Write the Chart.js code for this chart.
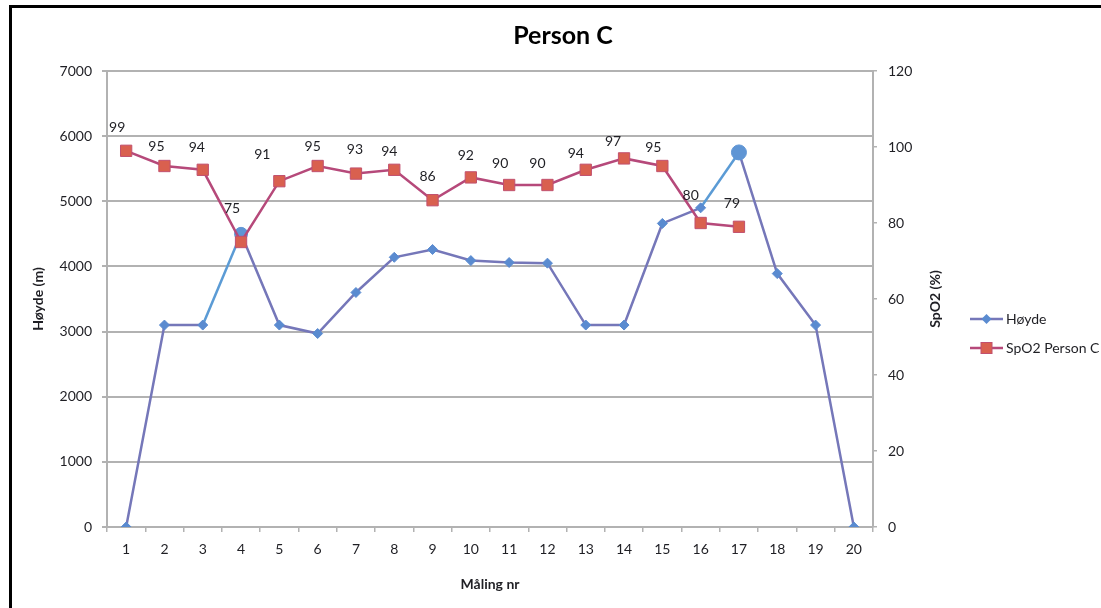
<!DOCTYPE html>
<html>
<head>
<meta charset="utf-8">
<title>Person C</title>
<script src="https://cdn.jsdelivr.net/npm/chart.js@4.4.1/dist/chart.umd.min.js"></script>
<style>
  html, body { margin: 0; padding: 0; background: #ffffff; }
  canvas { display: block; }
</style>
</head>
<body>
<canvas id="chart" width="1101" height="608"></canvas>
<script>
// Measurement numbers along the x axis
const measurements = ['1','2','3','4','5','6','7','8','9','10','11','12','13','14','15','16','17','18','19','20'];
// Altitude (m) at each measurement
const altitude = [0, 3100, 3100, 4500, 3100, 2970, 3600, 4140, 4260, 4090, 4060, 4050, 3100, 3100, 4660, 4900, 5750, 3890, 3100, 0];
// SpO2 (%) for Person C, measured at the first 17 points
const spo2 = [99, 95, 94, 75, 91, 95, 93, 94, 86, 92, 90, 90, 94, 97, 95, 80, 79];
// Axis ranges and steps
const altitudeAxis = { min: 0, max: 7000, step: 1000 };
const spo2Axis = { min: 0, max: 120, step: 20 };

const FONT = "Lato, 'Open Sans', 'Liberation Sans', sans-serif";
const TEXT = '#1f1f24';
const GRID = '#b2b2b2';

const altitudeLine = '#7577b9';
const altitudeMarker = '#5a8bd0';
const highlightLine = '#5b9bd5';
const spo2Line = '#b6497a';
const spo2Fill = '#d9604f';
const spo2Border = '#c2506e';

// measurement indices where the altitude point is emphasised
const emphasised = [3, 16];

// value-label placement relative to each SpO2 point
const labelShift = [[-9,-23],[-8,-20],[-6,-22],[-9,-34],[-17,-27],[-5,-20],[-1,-24],[-5,-18],[-5,-24],
                    [-5,-22],[-9,-22],[-10,-22],[-10,-16],[-11,-17],[-9,-19],[-10,-28],[-7,-23]];

const plainNumber = v => String(v);

const valueLabels = {
  id: 'valueLabels',
  afterDatasetsDraw(chart) {
    const meta = chart.getDatasetMeta(1);
    const ctx = chart.ctx;
    ctx.save();
    ctx.font = '14px ' + FONT;
    ctx.fillStyle = TEXT;
    ctx.textAlign = 'center';
    ctx.textBaseline = 'middle';
    meta.data.forEach((pt, i) => {
      const v = chart.data.datasets[1].data[i];
      if (v === undefined || v === null) return;
      const s = labelShift[i] || [-8, -22];
      ctx.fillText(String(v), pt.x + s[0], pt.y + s[1]);
    });
    ctx.restore();
  }
};

const decorations = {
  id: 'decorations',
  afterDraw(chart) {
    const ctx = chart.ctx;
    ctx.save();
    // right axis title, reading bottom to top
    const y = (chart.chartArea.top + chart.chartArea.bottom) / 2;
    ctx.translate(935, y);
    ctx.rotate(-Math.PI / 2);
    ctx.font = 'bold 14px ' + FONT;
    ctx.fillStyle = TEXT;
    ctx.textAlign = 'center';
    ctx.textBaseline = 'middle';
    ctx.fillText('SpO2 (%)', 0, 0);
    ctx.restore();

    // legend
    ctx.save();
    const rows = [
      { y: 319, label: chart.data.datasets[0].label, line: altitudeLine, shape: 'diamond' },
      { y: 348, label: chart.data.datasets[1].label, line: spo2Line, shape: 'square' }
    ];
    rows.forEach(r => {
      ctx.strokeStyle = r.line;
      ctx.lineWidth = 2.5;
      ctx.beginPath();
      ctx.moveTo(970, r.y);
      ctx.lineTo(1003, r.y);
      ctx.stroke();
      const cx = 986.5;
      if (r.shape === 'diamond') {
        ctx.fillStyle = altitudeMarker;
        ctx.beginPath();
        ctx.moveTo(cx, r.y - 5);
        ctx.lineTo(cx + 5, r.y);
        ctx.lineTo(cx, r.y + 5);
        ctx.lineTo(cx - 5, r.y);
        ctx.closePath();
        ctx.fill();
      } else {
        ctx.fillStyle = spo2Fill;
        ctx.strokeStyle = spo2Border;
        ctx.lineWidth = 1;
        ctx.fillRect(cx - 5.5, r.y - 5.5, 11, 11);
        ctx.strokeRect(cx - 5.5, r.y - 5.5, 11, 11);
      }
      ctx.font = '14px ' + FONT;
      ctx.fillStyle = TEXT;
      ctx.textAlign = 'left';
      ctx.textBaseline = 'middle';
      ctx.fillText(r.label, 1006, r.y);
    });
    ctx.restore();

    // frame
    ctx.save();
    ctx.fillStyle = '#000000';
    ctx.fillRect(9, 5, 3, 603);
    ctx.fillRect(9, 5, 1092, 3);
    ctx.restore();
  }
};

new Chart(document.getElementById('chart'), {
  type: 'line',
  data: {
    labels: measurements,
    datasets: [
      {
        label: 'Høyde',
        data: altitude,
        yAxisID: 'yAlt',
        order: 2,
        borderColor: altitudeLine,
        borderWidth: 2.5,
        tension: 0,
        pointStyle: altitude.map((_, i) => emphasised.includes(i) ? 'circle' : 'rectRot'),
        pointRadius: altitude.map((_, i) => i === 16 ? 7.5 : (i === 3 ? 6.5 : 5)),
        pointBackgroundColor: altitude.map((_, i) => emphasised.includes(i) ? '#5f95d4' : altitudeMarker),
        pointBorderColor: altitude.map((_, i) => emphasised.includes(i) ? '#5f95d4' : altitudeMarker),
        pointBorderWidth: 1,
        segment: {
          borderColor: c => emphasised.includes(c.p1DataIndex) ? highlightLine : undefined
        }
      },
      {
        label: 'SpO2 Person C',
        data: spo2,
        yAxisID: 'ySpo2',
        order: 1,
        borderColor: spo2Line,
        borderWidth: 2.5,
        tension: 0,
        pointStyle: 'rect',
        pointRadius: 8,
        pointBackgroundColor: spo2Fill,
        pointBorderColor: spo2Border,
        pointBorderWidth: 1
      }
    ]
  },
  options: {
    responsive: false,
    animation: false,
    events: [],
    layout: { padding: { left: 25, right: 0, top: 0, bottom: 0 } },
    plugins: {
      legend: { display: false },
      tooltip: { enabled: false },
      title: {
        display: true,
        text: 'Person C',
        color: '#000000',
        font: { family: FONT, size: 25, weight: 'bold' },
        padding: { top: 21, bottom: 20 }
      }
    },
    scales: {
      x: {
        type: 'category',
        offset: true,
        grid: { display: true, drawOnChartArea: false, color: GRID, lineWidth: 1.5, tickLength: 5, offset: true },
        border: { display: true, color: GRID, width: 2 },
        ticks: { color: TEXT, font: { family: FONT, size: 14 }, padding: 9, maxRotation: 0, autoSkip: false },
        title: { display: true, text: 'Måling nr', color: TEXT, font: { family: FONT, size: 14, weight: 'bold' }, padding: { top: 0, bottom: 15 } },
        afterFit(scale) { scale.height = 81; }
      },
      yAlt: {
        type: 'linear',
        position: 'left',
        min: altitudeAxis.min,
        max: altitudeAxis.max,
        ticks: { stepSize: altitudeAxis.step, color: TEXT, font: { family: FONT, size: 14 }, padding: 10, callback: plainNumber },
        grid: { color: GRID, lineWidth: 2, tickLength: 5 },
        border: { display: true, color: GRID, width: 2 },
        title: { display: true, text: 'Høyde (m)', color: TEXT, font: { family: FONT, size: 14, weight: 'bold' }, padding: { top: 5, bottom: 0 } },
        afterFit(scale) { scale.width = 82; }
      },
      ySpo2: {
        type: 'linear',
        position: 'right',
        min: spo2Axis.min,
        max: spo2Axis.max,
        ticks: { stepSize: spo2Axis.step, color: TEXT, font: { family: FONT, size: 14 }, padding: 11, callback: plainNumber },
        grid: { drawOnChartArea: false, color: GRID, lineWidth: 1.5, tickLength: 4 },
        border: { display: true, color: GRID, width: 2 },
        afterFit(scale) { scale.width = 228; }
      }
    }
  },
  plugins: [valueLabels, decorations]
});
</script>
</body>
</html>
